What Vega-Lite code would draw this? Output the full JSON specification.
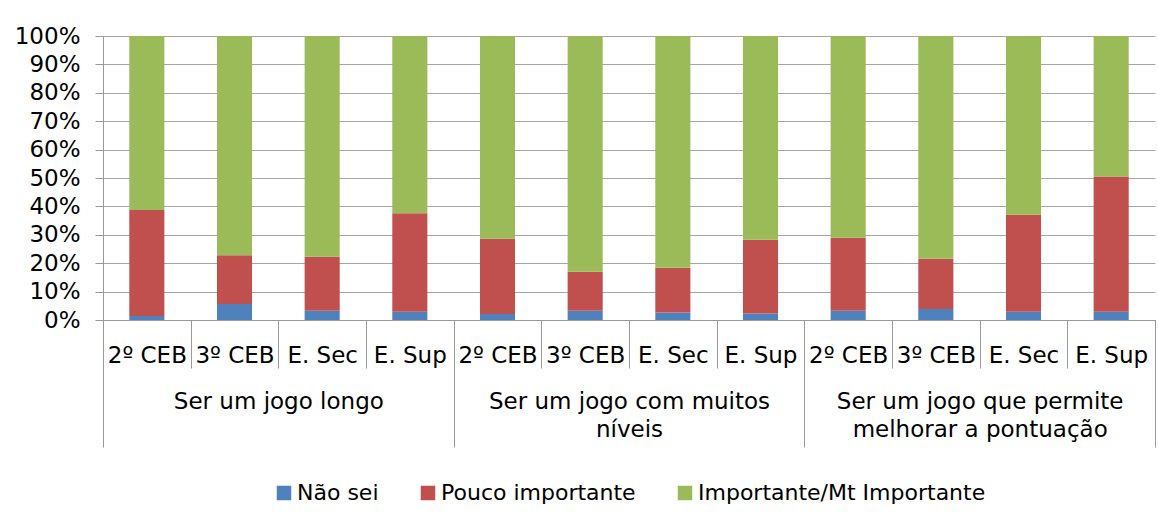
{
  "$schema": "https://vega.github.io/schema/vega-lite/v6.json",
  "width": 1052,
  "height": 284,
  "autosize": "none",
  "padding": {"left": 103, "top": 36, "right": 3, "bottom": 200},
  "background": "white",
  "config": {
    "font": "DejaVu Sans",
    "view": {"stroke": null},
    "axis": {"labelColor": "#000000", "labelFont": "DejaVu Sans", "domainColor": "#9a9a9a", "tickColor": "#9a9a9a", "gridColor": "#a6a6a6", "domainWidth": 1, "tickWidth": 1, "labelLimit": 0},
    "legend": {"layout": {"bottom": {"anchor": "middle"}}}
  },
  "data": {
    "values": [
      {"grupo": "Ser um jogo longo", "nivel": "2º CEB", "resposta": "Não sei", "valor": 1.4},
      {"grupo": "Ser um jogo longo", "nivel": "2º CEB", "resposta": "Pouco importante", "valor": 37.3},
      {"grupo": "Ser um jogo longo", "nivel": "2º CEB", "resposta": "Importante/Mt Importante", "valor": 61.3},
      {"grupo": "Ser um jogo longo", "nivel": "3º CEB", "resposta": "Não sei", "valor": 5.6},
      {"grupo": "Ser um jogo longo", "nivel": "3º CEB", "resposta": "Pouco importante", "valor": 17.2},
      {"grupo": "Ser um jogo longo", "nivel": "3º CEB", "resposta": "Importante/Mt Importante", "valor": 77.2},
      {"grupo": "Ser um jogo longo", "nivel": "E. Sec", "resposta": "Não sei", "valor": 3.3},
      {"grupo": "Ser um jogo longo", "nivel": "E. Sec", "resposta": "Pouco importante", "valor": 19.0},
      {"grupo": "Ser um jogo longo", "nivel": "E. Sec", "resposta": "Importante/Mt Importante", "valor": 77.7},
      {"grupo": "Ser um jogo longo", "nivel": "E. Sup", "resposta": "Não sei", "valor": 2.9},
      {"grupo": "Ser um jogo longo", "nivel": "E. Sup", "resposta": "Pouco importante", "valor": 34.7},
      {"grupo": "Ser um jogo longo", "nivel": "E. Sup", "resposta": "Importante/Mt Importante", "valor": 62.4},
      {"grupo": "Ser um jogo com muitos níveis", "nivel": "2º CEB", "resposta": "Não sei", "valor": 2.1},
      {"grupo": "Ser um jogo com muitos níveis", "nivel": "2º CEB", "resposta": "Pouco importante", "valor": 26.5},
      {"grupo": "Ser um jogo com muitos níveis", "nivel": "2º CEB", "resposta": "Importante/Mt Importante", "valor": 71.4},
      {"grupo": "Ser um jogo com muitos níveis", "nivel": "3º CEB", "resposta": "Não sei", "valor": 3.3},
      {"grupo": "Ser um jogo com muitos níveis", "nivel": "3º CEB", "resposta": "Pouco importante", "valor": 13.7},
      {"grupo": "Ser um jogo com muitos níveis", "nivel": "3º CEB", "resposta": "Importante/Mt Importante", "valor": 83.0},
      {"grupo": "Ser um jogo com muitos níveis", "nivel": "E. Sec", "resposta": "Não sei", "valor": 2.6},
      {"grupo": "Ser um jogo com muitos níveis", "nivel": "E. Sec", "resposta": "Pouco importante", "valor": 15.8},
      {"grupo": "Ser um jogo com muitos níveis", "nivel": "E. Sec", "resposta": "Importante/Mt Importante", "valor": 81.6},
      {"grupo": "Ser um jogo com muitos níveis", "nivel": "E. Sup", "resposta": "Não sei", "valor": 2.3},
      {"grupo": "Ser um jogo com muitos níveis", "nivel": "E. Sup", "resposta": "Pouco importante", "valor": 26.0},
      {"grupo": "Ser um jogo com muitos níveis", "nivel": "E. Sup", "resposta": "Importante/Mt Importante", "valor": 71.7},
      {"grupo": "Ser um jogo que permite melhorar a pontuação", "nivel": "2º CEB", "resposta": "Não sei", "valor": 3.3},
      {"grupo": "Ser um jogo que permite melhorar a pontuação", "nivel": "2º CEB", "resposta": "Pouco importante", "valor": 25.7},
      {"grupo": "Ser um jogo que permite melhorar a pontuação", "nivel": "2º CEB", "resposta": "Importante/Mt Importante", "valor": 71.0},
      {"grupo": "Ser um jogo que permite melhorar a pontuação", "nivel": "3º CEB", "resposta": "Não sei", "valor": 3.9},
      {"grupo": "Ser um jogo que permite melhorar a pontuação", "nivel": "3º CEB", "resposta": "Pouco importante", "valor": 17.7},
      {"grupo": "Ser um jogo que permite melhorar a pontuação", "nivel": "3º CEB", "resposta": "Importante/Mt Importante", "valor": 78.4},
      {"grupo": "Ser um jogo que permite melhorar a pontuação", "nivel": "E. Sec", "resposta": "Não sei", "valor": 2.9},
      {"grupo": "Ser um jogo que permite melhorar a pontuação", "nivel": "E. Sec", "resposta": "Pouco importante", "valor": 34.2},
      {"grupo": "Ser um jogo que permite melhorar a pontuação", "nivel": "E. Sec", "resposta": "Importante/Mt Importante", "valor": 62.9},
      {"grupo": "Ser um jogo que permite melhorar a pontuação", "nivel": "E. Sup", "resposta": "Não sei", "valor": 2.9},
      {"grupo": "Ser um jogo que permite melhorar a pontuação", "nivel": "E. Sup", "resposta": "Pouco importante", "valor": 47.6},
      {"grupo": "Ser um jogo que permite melhorar a pontuação", "nivel": "E. Sup", "resposta": "Importante/Mt Importante", "valor": 49.5}
    ]
  },
  "transform": [
    {"calculate": "datum.grupo + '#' + datum.nivel", "as": "barra"},
    {"calculate": "indexof(['Não sei', 'Pouco importante', 'Importante/Mt Importante'], datum.resposta)", "as": "ordem"}
  ],
  "layer": [
    {
      "mark": {"type": "bar", "width": {"band": 0.4}},
      "encoding": {
        "x": {
          "field": "barra", "type": "nominal", "sort": null,
          "scale": {"paddingInner": 0, "paddingOuter": 0},
          "axis": {"title": null, "labelExpr": "split(datum.label, '#')[1]", "labelAngle": 0, "tickBand": "extent", "tickSize": 48, "labelPadding": -6, "labelBaseline": "alphabetic", "labelFontSize": 23, "grid": false}
        },
        "y": {
          "field": "valor", "type": "quantitative", "stack": "zero",
          "scale": {"domain": [0, 100], "nice": false},
          "axis": {"title": null, "values": [0, 10, 20, 30, 40, 50, 60, 70, 80, 90, 100], "labelExpr": "datum.value + '%'", "tickSize": 8, "labelPadding": 15, "labelFontSize": 23, "grid": true}
        },
        "color": {
          "field": "resposta", "type": "nominal",
          "scale": {"domain": ["Não sei", "Pouco importante", "Importante/Mt Importante"], "range": ["#4f81bd", "#c0504d", "#9bbb59"]},
          "legend": {"orient": "bottom", "direction": "horizontal", "title": null, "symbolType": "square", "symbolSize": 210, "symbolStrokeWidth": 0, "labelFontSize": 22, "labelColor": "#000000", "labelFont": "DejaVu Sans", "labelLimit": 0, "columnPadding": 38, "labelOffset": 2, "offset": 34}
        },
        "order": {"field": "ordem", "type": "quantitative"}
      }
    },
    {
      "mark": {"type": "text", "text": ""},
      "encoding": {
        "x": {
          "field": "grupo", "type": "nominal", "sort": null,
          "scale": {"paddingInner": 0, "paddingOuter": 0},
          "axis": {"orient": "bottom", "title": null, "labelAngle": 0, "domain": false, "tickBand": "extent", "tickSize": 127, "labelPadding": -39, "labelBaseline": "alphabetic", "labelFontSize": 23, "labelLineHeight": 28, "labelLimit": 0, "labelExpr": "split(replace(replace(datum.label, 'muitos ', 'muitos|'), 'permite ', 'permite|'), '|')"}
        }
      }
    }
  ],
  "resolve": {"scale": {"x": "independent"}}
}
